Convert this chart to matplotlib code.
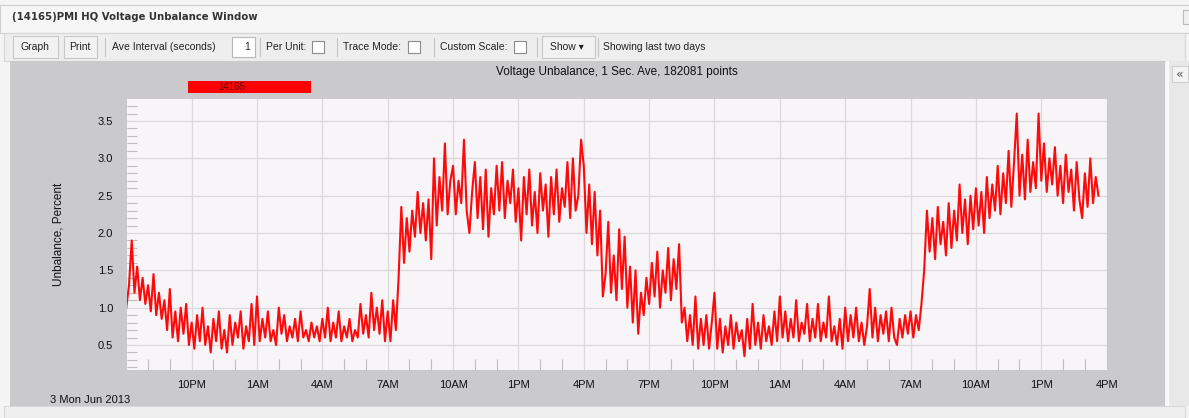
import datetime as dt
import matplotlib
matplotlib.use("Agg")
import matplotlib.pyplot as plt
import matplotlib.dates as mdates
from matplotlib.patches import Rectangle
from matplotlib.ticker import MultipleLocator, FuncFormatter

# Voltage unbalance (percent), one reading every 7.5 minutes,
# starting Mon 3 Jun 2013 at 7PM. One row = three hours.
start = dt.datetime(2013, 6, 3, 19, 0)
step_hours = 0.125
unbalance = [
    1.00, 1.30, 1.90, 1.20, 1.55, 1.10, 1.40, 1.05, 1.30, 0.95, 1.45, 0.90, 1.20, 0.85, 1.10, 0.70, 1.25, 0.60, 0.95, 0.55, 1.00, 0.65, 1.05, 0.50,
    0.80, 0.45, 0.90, 0.55, 1.00, 0.50, 0.75, 0.40, 0.85, 0.55, 0.95, 0.45, 0.70, 0.40, 0.90, 0.50, 0.80, 0.60, 0.95, 0.45, 0.75, 0.55, 1.05, 0.50,
    1.15, 0.55, 0.85, 0.60, 0.95, 0.55, 0.70, 0.50, 1.00, 0.65, 0.90, 0.55, 0.75, 0.60, 0.85, 0.55, 0.95, 0.60, 0.70, 0.55, 0.80, 0.60, 0.75, 0.55,
    0.85, 0.60, 1.00, 0.55, 0.80, 0.60, 0.95, 0.55, 0.75, 0.60, 0.85, 0.55, 0.70, 0.60, 1.05, 0.65, 0.90, 0.60, 1.20, 0.70, 1.00, 0.65, 1.10, 0.55,
    0.95, 0.55, 1.10, 0.70, 1.40, 2.35, 1.60, 2.20, 1.75, 2.30, 1.95, 2.55, 2.00, 2.40, 1.90, 2.45, 1.65, 3.00, 2.10, 2.75, 2.30, 3.20, 2.25, 2.70,
    2.90, 2.25, 2.70, 2.40, 3.25, 2.30, 2.00, 2.55, 2.95, 2.20, 2.75, 2.05, 2.85, 1.95, 2.60, 2.25, 2.90, 2.30, 2.95, 2.20, 2.70, 2.40, 2.85, 2.15,
    2.60, 1.90, 2.75, 2.25, 2.85, 2.10, 2.55, 2.00, 2.80, 2.30, 2.65, 1.95, 2.75, 2.25, 2.85, 2.15, 2.60, 2.35, 2.95, 2.20, 3.00, 2.30, 2.50, 3.25,
    2.90, 2.00, 2.65, 1.85, 2.55, 1.70, 2.30, 1.15, 1.45, 2.15, 1.20, 1.70, 1.10, 2.05, 1.25, 1.95, 1.00, 1.55, 0.80, 1.50, 0.65, 1.20, 0.90, 1.40,
    1.05, 1.60, 1.15, 1.75, 1.00, 1.50, 1.20, 1.80, 1.10, 1.65, 1.25, 1.85, 0.80, 1.00, 0.55, 0.90, 0.50, 1.15, 0.45, 0.85, 0.50, 0.90, 0.45, 0.80,
    1.20, 0.45, 0.85, 0.40, 0.75, 0.50, 0.90, 0.45, 0.80, 0.55, 0.70, 0.35, 0.85, 0.45, 1.05, 0.50, 0.80, 0.45, 0.90, 0.55, 0.75, 0.50, 0.95, 0.55,
    1.15, 0.60, 0.95, 0.55, 0.85, 0.60, 1.10, 0.55, 0.80, 0.65, 1.05, 0.55, 0.85, 0.60, 1.05, 0.55, 0.80, 0.60, 1.15, 0.55, 0.75, 0.50, 0.85, 0.45,
    1.00, 0.55, 0.90, 0.60, 1.00, 0.55, 0.80, 0.50, 0.75, 1.25, 0.60, 1.00, 0.55, 0.90, 0.65, 0.95, 0.55, 1.00, 0.60, 0.50, 0.85, 0.60, 0.90, 0.65,
    0.95, 0.60, 0.90, 0.70, 1.05, 1.50, 2.30, 1.75, 2.20, 1.65, 2.35, 1.85, 2.15, 1.70, 2.40, 1.80, 2.30, 1.90, 2.65, 2.00, 2.45, 1.85, 2.50, 2.05,
    2.60, 2.10, 2.55, 2.00, 2.75, 2.20, 2.65, 2.30, 2.90, 2.25, 2.80, 2.40, 3.10, 2.35, 2.95, 3.60, 2.50, 3.05, 2.45, 3.25, 2.55, 2.95, 2.60, 3.60,
    2.70, 3.20, 2.55, 3.00, 2.65, 3.15, 2.50, 2.90, 2.40, 3.05, 2.55, 2.85, 2.30, 2.95, 2.45, 2.20, 2.80, 2.35, 3.00, 2.40, 2.75, 2.50,
]
times = [start + dt.timedelta(hours=i * step_hours) for i in range(len(unbalance))]

y_ticks = [0.5, 1.0, 1.5, 2.0, 2.5, 3.0, 3.5]
series_name = "14165"

W, H = 1189, 418
fig = plt.figure(figsize=(W / 100, H / 100), dpi=100)
fig.patch.set_facecolor("#f4f4f4")

# window chrome drawn in pixel coordinates
bg = fig.add_axes([0, 0, 1, 1])
bg.set_xlim(0, W)
bg.set_ylim(H, 0)
bg.axis("off")

def box(x, y, w, h, fc, ec="none", lw=0.8, z=1):
    bg.add_patch(Rectangle((x, y), w, h, facecolor=fc, edgecolor=ec, lw=lw, zorder=z))

sans = ["Liberation Sans", "DejaVu Sans"]
ui = dict(family=sans, fontsize=7.5, color="#222222", va="center")

box(0, 5, W, 28, "#f6f6f6", "#cfcfcf")
bg.text(12, 17, "(14165)PMI HQ Voltage Unbalance Window", family="DejaVu Sans",
        fontsize=7.3, fontweight="bold", color="#333333", va="center")
box(1183, 10, 10, 14, "#f0f0f0", "#bbbbbb")

box(4, 33, W - 8, 28, "#eeeeee", "#d6d6d6")
tb_y = 47
box(13, 36, 45, 22, "#f2f2f2", "#c8c8c8", z=2)
bg.text(35, tb_y, "Graph", ha="center", **ui)
box(64, 36, 33, 22, "#f2f2f2", "#c8c8c8", z=2)
bg.text(80, tb_y, "Print", ha="center", **ui)
for sx in [105, 260, 337, 434, 537, 598]:
    bg.plot([sx, sx], [38, 56], color="#c4c4c4", lw=0.8)
bg.text(112, tb_y, "Ave Interval (seconds)", **ui)
box(232, 37, 23, 20, "white", "#b8b8b8", z=2)
bg.text(250, tb_y, "1", ha="right", **ui)
bg.text(266, tb_y, "Per Unit:", **ui)
box(312, 41, 12, 12, "white", "#8c8c8c", z=2)
bg.text(343, tb_y, "Trace Mode:", **ui)
box(408, 41, 12, 12, "white", "#8c8c8c", z=2)
bg.text(440, tb_y, "Custom Scale:", **ui)
box(514, 41, 12, 12, "white", "#8c8c8c", z=2)
box(542, 36, 53, 22, "#f2f2f2", "#c8c8c8", z=2)
bg.text(550, tb_y, "Show \u25be", **ui)
bg.text(603, tb_y, "Showing last two days", **ui)

# grey chart panel and side strip
box(10, 61, 1155, 345, "#cac9cb")
box(1166, 61, 3, 345, "#fafafa")
box(1169, 61, 20, 345, "#e8e8e8")
box(1172, 66, 16, 16, "#f4f4f4", "#d0d0d0", z=2)
bg.text(1180, 74, "\u00ab", ha="center", va="center", fontsize=9, color="#555555", zorder=3)
box(4, 406, W - 8, 12, "#f0f0f0", "#d8d8d8")

bg.text(617, 72, "Voltage Unbalance, 1 Sec. Ave, 182081 points", ha="center", va="center",
        family=sans, fontsize=8.5, color="#111111")
box(188, 81, 123, 12, "#ff0000", z=2)
bg.text(232, 87.5, series_name, ha="center", va="center", family=sans,
        fontsize=7, color="#550000", zorder=3)
bg.text(50, 400, "3 Mon Jun 2013", va="center", family=sans, fontsize=8,
        color="#111111")

# chart
ax = fig.add_axes([127 / W, (H - 370) / H, 980 / W, 271 / H])
ax.set_facecolor("#f8f5f8")
ax.plot(times, unbalance, color="#ff0a0a", lw=1.5)

ax.set_xlim(start + dt.timedelta(minutes=2), start + dt.timedelta(hours=45, minutes=1))
ax.set_ylim(0.165, 3.795)
ax.set_yticks(y_ticks)
ax.yaxis.set_minor_locator(MultipleLocator(0.1))
ax.xaxis.set_major_locator(mdates.HourLocator(byhour=[1, 4, 7, 10, 13, 16, 19, 22]))
ax.xaxis.set_minor_locator(mdates.HourLocator())
ax.xaxis.set_major_formatter(FuncFormatter(
    lambda v, pos: mdates.num2date(v).strftime("%I%p").lstrip("0")))
ax.yaxis.set_major_formatter(FuncFormatter(lambda v, pos: "%.1f" % v))

ax.grid(True, which="major", color="#dcd8dc", lw=0.9)
ax.set_axisbelow(True)
for s in ax.spines.values():
    s.set_visible(False)
ax.tick_params(which="both", direction="in", color="#c0bcc0", labelsize=8,
               labelcolor="#111111", labelfontfamily="Liberation Sans")
ax.tick_params(which="major", length=0, pad=7)
ax.tick_params(axis="y", which="major", pad=10)
ax.tick_params(axis="x", which="minor", length=8, width=0.8)
ax.tick_params(axis="y", which="minor", length=7, width=0.8)

ax.set_ylabel("Unbalance, Percent", family=sans, fontsize=8.5,
              color="#111111", labelpad=24)

fig.savefig("out.png", dpi=100)
